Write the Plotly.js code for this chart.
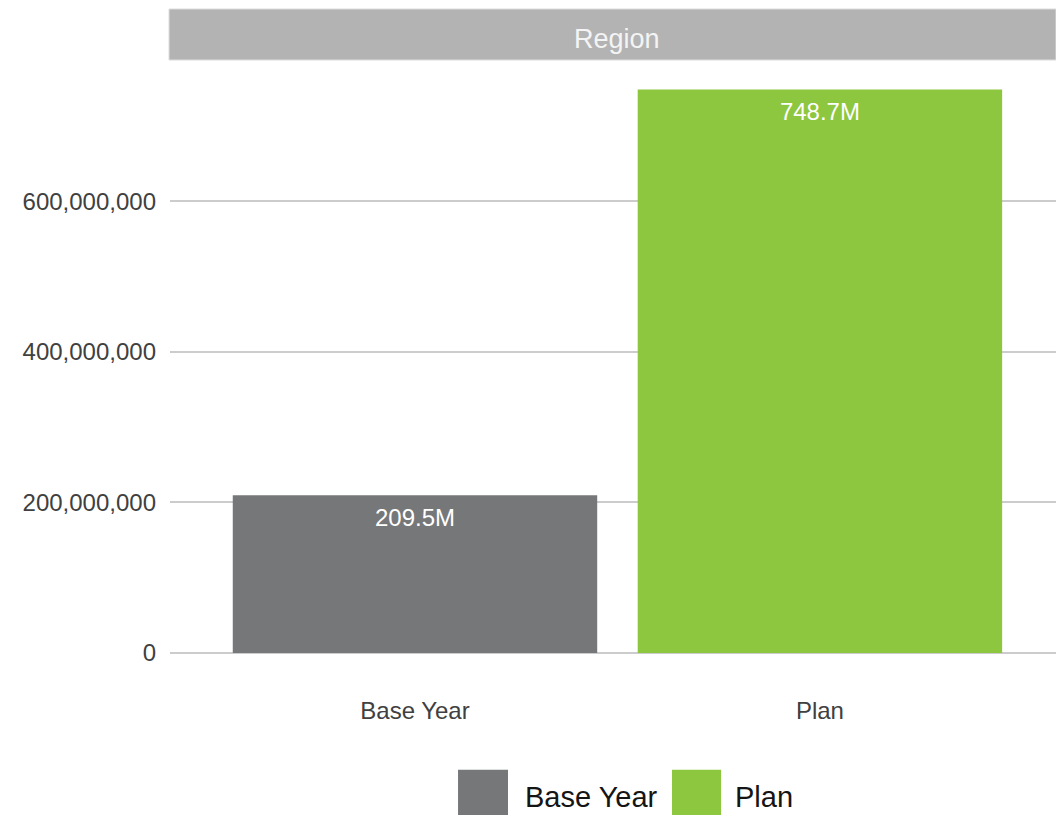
<!DOCTYPE html>
<html>
<head>
<meta charset="utf-8">
<script src="https://cdn.plot.ly/plotly-3.0.1.min.js"></script>
<style>
html,body{margin:0;padding:0;background:#fff;}
#chart{width:1056px;height:815px;}
</style>
</head>
<body>
<div id="chart"></div>
<script>
// Data
const categories = ["Base Year", "Plan"];
const values = [209.5e6, 748.7e6];
const seriesColors = ["#767779", "#8dc63f"];
const headerTitle = "Region";
const yTickVals = [0, 200e6, 400e6, 600e6];

const FONT = "Liberation Sans, Arial, sans-serif";

const bars = {
  type: "bar",
  x: categories,
  y: values,
  width: 0.9,
  marker: { color: seriesColors, line: { width: 0 } },
  hoverinfo: "skip",
  showlegend: false
};

const labels = {
  type: "scatter",
  mode: "markers+text",
  x: categories,
  y: values,
  texttemplate: "%{y:.4s}",
  textposition: "bottom center",
  textfont: { family: FONT, size: 24, color: "#ffffff" },
  marker: { size: 18, opacity: 0 },
  hoverinfo: "skip",
  showlegend: false,
  cliponaxis: false
};

// Legend drawn as paper-space decorations (large swatches)
const legendItems = [
  { x0: 0.3251, x1: 0.3815, tx: 0.3984 },
  { x0: 0.5666, x1: 0.6220, tx: 0.6354 }
];
const shapes = [
  { type: "rect", xref: "paper", yref: "paper", x0: -0.0011, x1: 1.0, y0: 1.0, y1: 1.086,
    fillcolor: "#b3b3b3", line: { color: "#dcdcdc", width: 1 }, layer: "above" }
];
const annotations = [
  { xref: "paper", yref: "paper", x: 0.5045, y: 1.036, text: headerTitle, showarrow: false,
    xanchor: "center", yanchor: "middle", font: { family: FONT, size: 27, color: "#f4f4f4" } }
];
legendItems.forEach((it, i) => {
  shapes.push({ type: "rect", xref: "paper", yref: "paper", x0: it.x0, x1: it.x1, y0: -0.197, y1: -0.285,
    fillcolor: seriesColors[i], line: { width: 0 } });
  annotations.push({ xref: "paper", yref: "paper", x: it.tx, y: -0.2428, text: categories[i], showarrow: false,
    xanchor: "left", yanchor: "middle", font: { family: FONT, size: 29, color: "#151515" } });
});

const layout = {
  width: 1056, height: 815,
  margin: { l: 170, r: 0, t: 60, b: 162, pad: 0 },
  paper_bgcolor: "#ffffff", plot_bgcolor: "#ffffff",
  font: { family: FONT, color: "#444444" },
  showlegend: false,
  bargap: 0.1,
  xaxis: {
    type: "category",
    range: [-0.605, 1.583],
    showgrid: false, showline: false, zeroline: false, ticks: "",
    tickfont: { family: FONT, size: 24, color: "#404040" },
    ticklabelstandoff: 41,
    fixedrange: true
  },
  yaxis: {
    range: [0, 788e6],
    tickvals: yTickVals,
    tickformat: ",",
    showgrid: true, gridcolor: "#cccccc", gridwidth: 2,
    zeroline: true, zerolinecolor: "#cccccc", zerolinewidth: 2,
    showline: false, ticks: "",
    tickfont: { family: FONT, size: 24, color: "#404040" },
    ticklabelstandoff: 13,
    fixedrange: true
  },
  shapes: shapes,
  annotations: annotations
};

Plotly.newPlot("chart", [bars, labels], layout, { displayModeBar: false, staticPlot: true });
</script>
</body>
</html>
